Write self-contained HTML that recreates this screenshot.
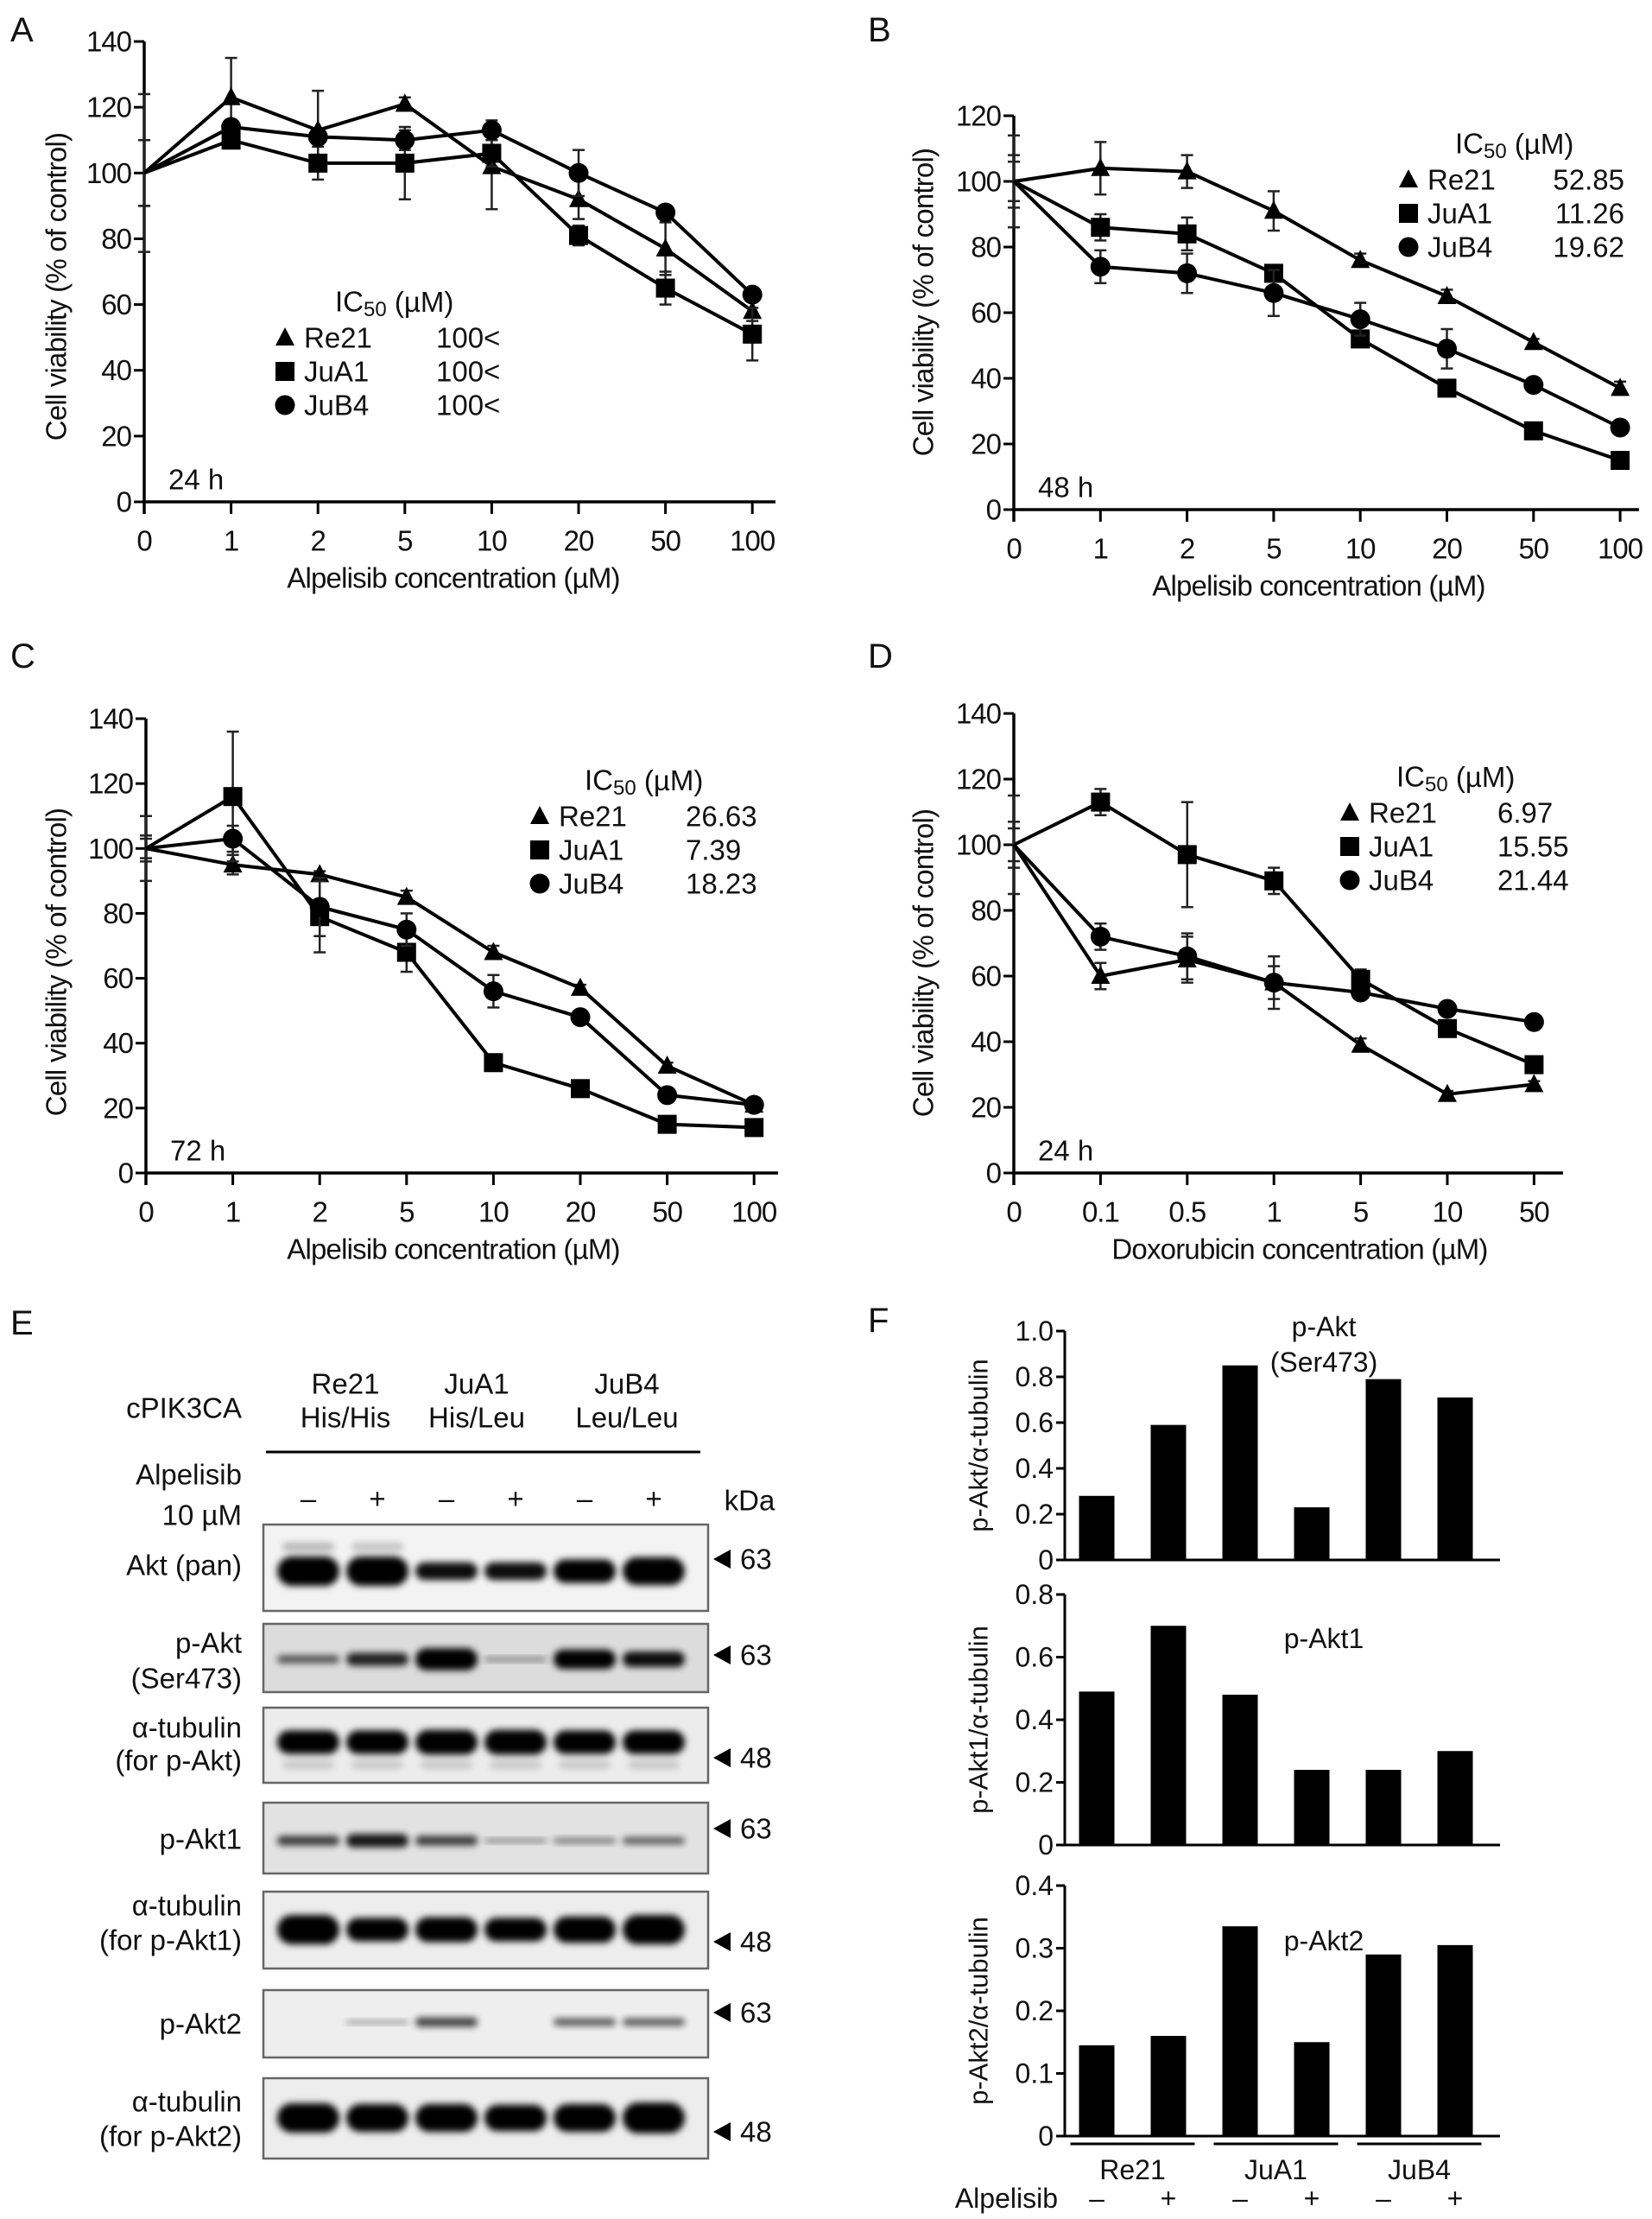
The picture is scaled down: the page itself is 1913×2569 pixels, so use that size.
<!DOCTYPE html>
<html><head><meta charset="utf-8"><style>
html,body{margin:0;padding:0;background:#fff;}
svg{display:block;font-family:"Liberation Sans",Arial,sans-serif;}
</style></head><body>
<svg id="fig" width="1913" height="2569" viewBox="0 0 1913 2569" xmlns="http://www.w3.org/2000/svg">
<defs><filter id="blur" x="-20%" y="-80%" width="140%" height="260%"><feGaussianBlur stdDeviation="4"/></filter></defs>
<rect x="0" y="0" width="1913" height="2569" fill="#fff"/>
</svg>
<script>
// ---------- Data: viability panels ----------
const concA = ["0","1","2","5","10","20","50","100"];
const concD = ["0","0.1","0.5","1","5","10","50"];
const seriesNames = ["Re21","JuA1","JuB4"];
const yTicks140 = [0,20,40,60,80,100,120,140];
const yTicks120 = [0,20,40,60,80,100,120];

const aRe21 = [100,123,113,121,102,92,77,58];
const aRe21Err = [24,12,12,2,13,6,8,3];
const aJuA1 = [100,110,103,103,106,81,65,51];
const aJuA1Err = [10,1,5,11,4,3,5,8];
const aJuB4 = [100,114,111,110,113,100,88,63];
const aJuB4Err = [10,2,2,3,3,7,2,2];
const aIC50 = ["100<","100<","100<"];

const bRe21 = [100,104,103,91,76,65,51,37];
const bRe21Err = [6,8,5,6,2,2,1,2];
const bJuA1 = [100,86,84,72,52,37,24,15];
const bJuA1Err = [14,4,5,1,2,1,1,1];
const bJuB4 = [100,74,72,66,58,49,38,25];
const bJuB4Err = [8,5,6,7,5,6,1,1];
const bIC50 = ["52.85","11.26","19.62"];

const cRe21 = [100,95,92,85,68,57,33,21];
const cRe21Err = [10,3,1,2,2,1,1,1];
const cJuA1 = [100,116,79,68,34,26,15,14];
const cJuA1Err = [4,20,11,6,1,1,1,1];
const cJuB4 = [100,103,82,75,56,48,24,21];
const cJuB4Err = [3,4,9,5,5,2,1,1];
const cIC50 = ["26.63","7.39","18.23"];

const dRe21 = [100,60,65,58,39,24,27];
const dRe21Err = [15,4,7,5,2,1,1];
const dJuA1 = [100,113,97,89,59,44,33];
const dJuA1Err = [5,4,16,4,3,1,1];
const dJuB4 = [100,72,66,58,55,50,46];
const dJuB4Err = [7,4,7,8,2,1,1];
const dIC50 = ["6.97","15.55","21.44"];

// ---------- Data: bar panels ----------
const barGroups = ["Re21","JuA1","JuB4"];
const barTreat = ["–","+","–","+","–","+"];
const fPAkt = [0.28,0.59,0.85,0.23,0.79,0.71];
const fPAkt1 = [0.49,0.70,0.48,0.24,0.24,0.30];
const fPAkt2 = [0.145,0.16,0.335,0.15,0.29,0.305];
const fTicks1 = [0,0.2,0.4,0.6,0.8,1.0];
const fTickLabels1 = ["0","0.2","0.4","0.6","0.8","1.0"];
const fTicks2 = [0,0.2,0.4,0.6,0.8];
const fTickLabels2 = ["0","0.2","0.4","0.6","0.8"];
const fTicks3 = [0,0.1,0.2,0.3,0.4];
const fTickLabels3 = ["0","0.1","0.2","0.3","0.4"];

// ---------- Data: blot band intensities (relative thickness 0..1) ----------
const blotAkt = [1.0,1.0,0.6,0.6,0.8,0.95];
const blotAktUpper = [0.25,0.2,0,0,0,0];
const blotPAkt = [0.3,0.5,0.85,0.15,0.75,0.6];
const blotTub1 = [0.85,0.85,0.9,0.9,0.85,0.85];
const blotPAkt1 = [0.4,0.55,0.4,0.15,0.2,0.28];
const blotTub2 = [1.0,0.8,0.85,0.8,0.9,1.0];
const blotPAkt2 = [0.0,0.08,0.38,0.0,0.3,0.3];
const blotTub3 = [1.0,0.95,0.95,0.9,0.95,1.05];

const NS = "http://www.w3.org/2000/svg";
const svg = document.getElementById("fig");
const FS = 33;

function mk(tag, attrs, name, parent){
  const e = document.createElementNS(NS, tag);
  for (const k in attrs) e.setAttribute(k, attrs[k]);
  
  
  (parent || svg).appendChild(e);
  return e;
}
function txt(x, y, s, size, anchor, name, extra){
  const a = {x:x, y:y, "font-size":size, "text-anchor":anchor||"start", "dominant-baseline":"central", fill:"#111"};
  if (extra) for (const k in extra) a[k] = extra[k];
  const t = mk("text", a, name);
  t.textContent = s;
  return t;
}
function marker(kind, x, y, name){
  if (kind === 0) {
    mk("polygon", {points:`${x},${y-12} ${x-11},${y+9} ${x+11},${y+9}`, fill:"#000"}, name);
  } else if (kind === 1) {
    mk("rect", {x:x-11, y:y-11, width:22, height:22, fill:"#000"}, name);
  } else {
    mk("circle", {cx:x, cy:y, r:11.5, fill:"#000"}, name);
  }
}

function lineChart(cfg){
  const xPos = i => cfg.x0 + i*cfg.dx;
  const yPos = v => cfg.y0 - v*cfg.ppu;
  const p = cfg.prefix;
  mk("line", {x1:cfg.x0, y1:yPos(cfg.yMax), x2:cfg.x0, y2:cfg.y0+14, stroke:"#000", "stroke-width":3.5}, p+"-y-axis");
  mk("line", {x1:cfg.x0-2, y1:cfg.y0, x2:cfg.xEnd, y2:cfg.y0, stroke:"#000", "stroke-width":3.5}, p+"-x-axis");
  cfg.yTicks.forEach(v => {
    mk("line", {x1:cfg.x0-12, y1:yPos(v), x2:cfg.x0, y2:yPos(v), stroke:"#000", "stroke-width":3}, p+"-y-tick");
    txt(cfg.x0-15, yPos(v), String(v), FS, "end", p+"-y-tick-label", {"letter-spacing":"-1"});
  });
  cfg.cats.forEach((c, i) => {
    mk("line", {x1:xPos(i), y1:cfg.y0, x2:xPos(i), y2:cfg.y0+14, stroke:"#000", "stroke-width":3}, p+"-x-tick");
    txt(xPos(i), cfg.y0+45, c, FS, "middle", p+"-x-tick-label", {"letter-spacing":"-1"});
  });
  txt(cfg.xTitleX, cfg.y0+88, cfg.xTitle, FS, "middle", p+"-x-axis-title", {"letter-spacing":"-0.8"});
  txt(0, 0, "Cell viability (% of control)", FS, "middle", p+"-y-axis-title",
      {transform:`translate(${cfg.yTitleX},${cfg.yTitleY}) rotate(-90)`, "letter-spacing":"-0.8"});
  txt(cfg.x0+28, cfg.y0-26, cfg.time, FS, "start", p+"-time-label");
  txt(cfg.panelX, cfg.panelY, cfg.panel, 40, "start", p+"-panel-label");
  cfg.series.forEach((s, k) => {
    const pts = s.vals.map((v, i) => `${xPos(i)},${yPos(v)}`).join(" ");
    s.errs.forEach((e, i) => {
      const x = xPos(i), v = s.vals[i];
      mk("line", {x1:x, y1:yPos(v+e), x2:x, y2:yPos(v-e), stroke:"#222", "stroke-width":2.5}, p+"-error-bar-"+seriesNames[k]);
      mk("line", {x1:x-7, y1:yPos(v+e), x2:x+7, y2:yPos(v+e), stroke:"#222", "stroke-width":2.5}, p+"-error-cap");
      mk("line", {x1:x-7, y1:yPos(v-e), x2:x+7, y2:yPos(v-e), stroke:"#222", "stroke-width":2.5}, p+"-error-cap");
    });
    mk("polyline", {points:pts, fill:"none", stroke:"#000", "stroke-width":4, "stroke-linejoin":"round"}, p+"-line-"+seriesNames[k]);
    s.vals.forEach((v, i) => { if (i > 0) marker(k, xPos(i), yPos(v), p+"-point-"+seriesNames[k]); });
  });
  const ic = txt(cfg.legX, cfg.legY, "IC", FS, "start", p+"-legend-title");
  const sub = document.createElementNS(NS, "tspan");
  sub.setAttribute("font-size", "24"); sub.setAttribute("dy", "9"); sub.textContent = "50";
  ic.appendChild(sub);
  const rest = document.createElementNS(NS, "tspan");
  rest.setAttribute("dy", "-9"); rest.textContent = " (\u00b5M)";
  ic.appendChild(rest);
  seriesNames.forEach((n, k) => {
    const y = cfg.legY + 42 + k*39;
    marker(k, cfg.legMX, y, p+"-legend-marker-"+n);
    txt(cfg.legMX+22, y, n, FS, "start", p+"-legend-entry-"+n);
    txt(cfg.legVX, y, cfg.ic50[k], FS, cfg.legVAnchor, p+"-legend-value-"+n);
  });
}

lineChart({prefix:"panel-a", panel:"A", panelX:12, panelY:35, x0:167, dx:100.6, xEnd:898, y0:581, ppu:3.807, yMax:140,
  yTicks:yTicks140, cats:concA, xTitle:"Alpelisib concentration (\u00b5M)", xTitleX:525, yTitleX:65, yTitleY:332, time:"24 h",
  series:[{vals:aRe21,errs:aRe21Err},{vals:aJuA1,errs:aJuA1Err},{vals:aJuB4,errs:aJuB4Err}],
  legX:388, legY:349, legMX:330, legVX:505, legVAnchor:"start", ic50:aIC50});
lineChart({prefix:"panel-b", panel:"B", panelX:1005, panelY:35, x0:1174, dx:100.3, xEnd:1898, y0:590, ppu:3.8, yMax:120,
  yTicks:yTicks120, cats:concA, xTitle:"Alpelisib concentration (\u00b5M)", xTitleX:1527, yTitleX:1069, yTitleY:350, time:"48 h",
  series:[{vals:bRe21,errs:bRe21Err},{vals:bJuA1,errs:bJuA1Err},{vals:bJuB4,errs:bJuB4Err}],
  legX:1685, legY:166, legMX:1631, legVX:1881, legVAnchor:"end", ic50:bIC50});
lineChart({prefix:"panel-c", panel:"C", panelX:12, panelY:760, x0:169, dx:100.6, xEnd:901, y0:1358, ppu:3.757, yMax:140,
  yTicks:yTicks140, cats:concA, xTitle:"Alpelisib concentration (\u00b5M)", xTitleX:525, yTitleX:65, yTitleY:1114, time:"72 h",
  series:[{vals:cRe21,errs:cRe21Err},{vals:cJuA1,errs:cJuA1Err},{vals:cJuB4,errs:cJuB4Err}],
  legX:677, legY:903, legMX:625, legVX:794, legVAnchor:"start", ic50:cIC50});
lineChart({prefix:"panel-d", panel:"D", panelX:1005, panelY:760, x0:1174, dx:100.4, xEnd:1810, y0:1358, ppu:3.8, yMax:140,
  yTicks:yTicks140, cats:concD, xTitle:"Doxorubicin concentration (\u00b5M)", xTitleX:1505, yTitleX:1069, yTitleY:1115, time:"24 h",
  series:[{vals:dRe21,errs:dRe21Err},{vals:dJuA1,errs:dJuA1Err},{vals:dJuB4,errs:dJuB4Err}],
  legX:1617, legY:899, legMX:1563, legVX:1734, legVAnchor:"start", ic50:dIC50});

// ---------- Panel E: western blots ----------
txt(12, 1532, "E", 40, "start", "panel-e-label");
const laneX = i => 357 + i*80;
const eHead = [["Re21","His/His",400],["JuA1","His/Leu",552],["JuB4","Leu/Leu",726]];
eHead.forEach(h => {
  txt(h[2], 1602, h[0], FS, "middle", "genotype-cell-line");
  txt(h[2], 1641, h[1], FS, "middle", "genotype-label");
});
txt(280, 1630, "cPIK3CA", FS, "end", "cpik3ca-label");
mk("line", {x1:308, y1:1681, x2:811, y2:1681, stroke:"#000", "stroke-width":3}, "genotype-divider");
txt(280, 1707, "Alpelisib", FS, "end", "alpelisib-label");
txt(280, 1754, "10 \u00b5M", FS, "end", "dose-label");
barTreat.forEach((t, i) => txt(laneX(i), 1735, t, FS, "middle", "treatment-sign"));
txt(868, 1737, "kDa", FS, "middle", "kda-label");

function blot(y1, y2, bandY, vals, maxH, labels, kda, kdaY, name, bg, extra){
  mk("rect", {x:305, y:y1, width:515, height:y2-y1, fill:bg, stroke:"#666", "stroke-width":2.5}, name+"-membrane");
  if (extra) vals.forEach((v, i) => {
    const op = extra.ops ? extra.ops[i] : extra.op;
    if (op <= 0) return;
    mk("rect", {x:laneX(i)-30, y:bandY+extra.dy-5, width:60, height:10, rx:5, fill:"#000", opacity:op, filter:"url(#blur)"}, name+"-minor-band");
  });
  vals.forEach((v, i) => {
    if (v <= 0) return;
    const h = Math.max(4, v*maxH);
    mk("rect", {x:laneX(i)-36, y:bandY-h/2, width:72, height:h, rx:h/2, fill:"#000", opacity:Math.min(1, 0.35+v), filter:"url(#blur)"}, name+"-band");
  });
  labels.forEach(l => txt(280, l[1], l[0], FS, "end", name+"-label"));
  mk("polygon", {points:`826,${kdaY} 846,${kdaY-11} 846,${kdaY+11}`, fill:"#000"}, name+"-arrow");
  txt(857, kdaY, kda, FS, "start", name+"-kda");
}
blot(1765, 1865, 1819, blotAkt, 34, [["Akt (pan)",1812]], "63", 1805, "akt-pan", "#f3f3f3", {dy:-28, ops:blotAktUpper});
blot(1880, 1959, 1921, blotPAkt, 30, [["p-Akt",1902],["(Ser473)",1943]], "63", 1916, "p-akt", "#dcdcdc");
blot(1977, 2064, 2017, blotTub1, 32, [["\u03b1-tubulin",2000],["(for p-Akt)",2038]], "48", 2035, "tubulin-p-akt", "#ececec", {dy:26, op:0.15});
blot(2087, 2169, 2131, blotPAkt1, 28, [["p-Akt1",2129]], "63", 2117, "p-akt1", "#e2e2e2");
blot(2190, 2279, 2234, blotTub2, 34, [["\u03b1-tubulin",2206],["(for p-Akt1)",2246]], "48", 2248, "tubulin-p-akt1", "#ededed");
blot(2304, 2382, 2341, blotPAkt2, 28, [["p-Akt2",2343]], "63", 2330, "p-akt2", "#eeeeee");
blot(2406, 2499, 2452, blotTub3, 34, [["\u03b1-tubulin",2433],["(for p-Akt2)",2473]], "48", 2468, "tubulin-p-akt2", "#ededed");

// ---------- Panel F: bar charts ----------
txt(1005, 1529, "F", 40, "start", "panel-f-label");
const barX = i => 1270 + i*83;
function barChart(cfg){
  const yPos = v => cfg.y0 - v/cfg.max*(cfg.y0-cfg.yTop);
  const p = cfg.prefix;
  mk("line", {x1:1233, y1:cfg.yTop, x2:1233, y2:cfg.y0, stroke:"#000", "stroke-width":3}, p+"-y-axis");
  cfg.ticks.forEach((v, i) => {
    mk("line", {x1:1223, y1:yPos(v), x2:1233, y2:yPos(v), stroke:"#000", "stroke-width":3}, p+"-y-tick");
    txt(1220, yPos(v), cfg.tickLabels[i], 32, "end", p+"-y-tick-label");
  });
  cfg.vals.forEach((v, i) => {
    mk("rect", {x:barX(i)-20.5, y:yPos(v), width:41, height:cfg.y0-yPos(v), fill:"#000"}, p+"-bar");
  });
  mk("line", {x1:1231, y1:cfg.y0, x2:1737, y2:cfg.y0, stroke:"#000", "stroke-width":3}, p+"-x-axis");
  txt(0, 0, cfg.yTitle, 31, "middle", p+"-y-axis-title", {transform:`translate(1133,${(cfg.y0+cfg.yTop)/2}) rotate(-90)`});
  cfg.title.forEach((t, k) => txt(1533, cfg.titleY + k*41, t, 32, "middle", p+"-title"));
}
barChart({prefix:"bar-p-akt", y0:1806, yTop:1541, max:1.0, ticks:fTicks1, tickLabels:fTickLabels1, vals:fPAkt,
  yTitle:"p-Akt/\u03b1-tubulin", title:["p-Akt","(Ser473)"], titleY:1536});
barChart({prefix:"bar-p-akt1", y0:2136, yTop:1846, max:0.8, ticks:fTicks2, tickLabels:fTickLabels2, vals:fPAkt1,
  yTitle:"p-Akt1/\u03b1-tubulin", title:["p-Akt1"], titleY:1897});
barChart({prefix:"bar-p-akt2", y0:2473, yTop:2183, max:0.4, ticks:fTicks3, tickLabels:fTickLabels3, vals:fPAkt2,
  yTitle:"p-Akt2/\u03b1-tubulin", title:["p-Akt2"], titleY:2247});
barGroups.forEach((g, k) => {
  const cx = (barX(2*k) + barX(2*k+1))/2;
  mk("line", {x1:cx-72, y1:2482, x2:cx+72, y2:2482, stroke:"#000", "stroke-width":3}, "group-line-"+g);
  txt(cx, 2512, g, 32, "middle", "group-label-"+g);
});
barTreat.forEach((t, i) => txt(barX(i), 2545, t, 32, "middle", "bar-treatment-sign"));
txt(1225, 2545, "Alpelisib", 32, "end", "bar-alpelisib-label");
</script>
</body></html>
